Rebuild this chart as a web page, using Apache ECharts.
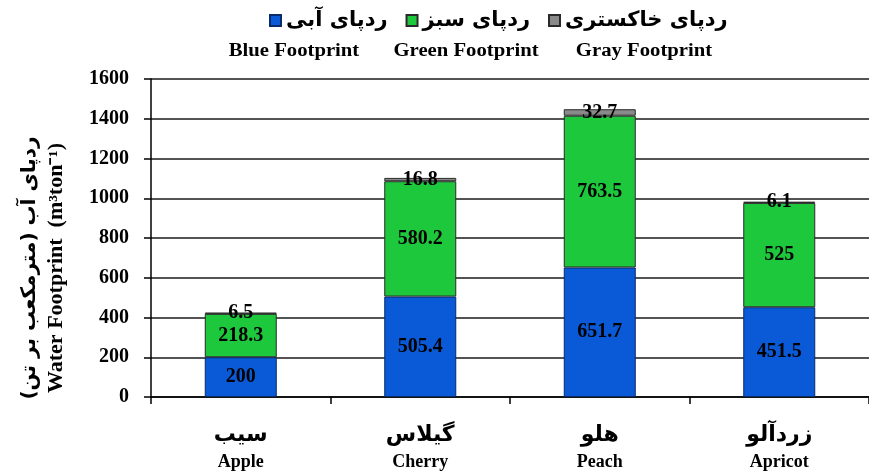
<!DOCTYPE html>
<html>
<head>
<meta charset="utf-8">
<script src="https://cdn.jsdelivr.net/npm/echarts@6/dist/echarts.min.js"></script>
<style>html,body{margin:0;padding:0;background:#fff}#c{width:869px;height:474px}</style>
</head>
<body>
<div id="c"></div>
<script>
const categoriesFa = ['سیب', 'گیلاس', 'هلو', 'زردآلو'];
const categoriesEn = ['Apple', 'Cherry', 'Peach', 'Apricot'];
const seriesNamesFa = ['ردپای آبی', 'ردپای سبز', 'ردپای خاکستری'];
const seriesNamesEn = ['Blue Footprint', 'Green Footprint', 'Gray Footprint'];
const blueValues = [200, 505.4, 651.7, 451.5];
const greenValues = [218.3, 580.2, 763.5, 525];
const grayValues = [6.5, 16.8, 32.7, 6.1];
const yTicks = [0, 200, 400, 600, 800, 1000, 1200, 1400, 1600];

const serif = '"Liberation Serif", "Times New Roman", serif';
const faFont = '"DejaVu Sans", "Noto Sans", sans-serif';
const colors = ['#0a5ad8', '#1ec83c', '#8a8a8a'];

const chart = echarts.init(document.getElementById('c'), null, {renderer: 'canvas'});

const labelStyle = {
  show: true, position: 'inside', color: '#000',
  fontFamily: serif, fontWeight: 'bold', fontSize: 20
};

function mkSeries(i, values) {
  return {
    name: seriesNamesFa[i], type: 'bar', stack: 'total', barWidth: 72,
    data: values,
    itemStyle: {color: colors[i], borderColor: i === 0 ? '#0a2a6a' : '#2a2a2a', borderWidth: 1},
    label: labelStyle
  };
}

chart.setOption({
  animation: false,
  grid: {left: 151, top: 79, width: 728, height: 318, containLabel: false},
  legend: {
    data: seriesNamesFa,
    top: 5, left: 264,
    icon: 'rect', itemWidth: 11, itemHeight: 11, itemGap: 18,
    textStyle: {fontFamily: faFont, fontWeight: 'bold', fontSize: 21, color: '#000'}
  },
  graphic: [
    ...seriesNamesEn.map((t, i) => ({
      type: 'text', x: [294, 466, 644][i], y: 51, scaleX: 1.15,
      style: {text: t, fontFamily: serif, fontWeight: 'bold', fontSize: 18, fill: '#000', align: 'center', verticalAlign: 'middle'}
    })),
    {
      type: 'text', x: 30, y: 268, rotation: Math.PI / 2,
      style: {text: 'ردپای آب (مترمکعب بر تن)', fontFamily: faFont, fontWeight: 'bold', fontSize: 20, fill: '#000', align: 'center', verticalAlign: 'middle'}
    },
    {
      type: 'text', x: 57, y: 268, rotation: Math.PI / 2, scaleX: 1.1,
      style: {text: 'Water Footprint  (m³ton⁻¹)', fontFamily: serif, fontWeight: 'bold', fontSize: 20, fill: '#000', align: 'center', verticalAlign: 'middle'}
    }
  ],
  xAxis: {
    type: 'category',
    data: categoriesEn,
    axisLine: {lineStyle: {color: '#000', width: 1.5}},
    axisTick: {show: true, length: 7, lineStyle: {color: '#000', width: 1.5}},
    axisLabel: {
      margin: 24,
      formatter: (v, idx) => '{fa|' + categoriesFa[idx] + '}\n{en|' + v + '}',
      rich: {
        fa: {fontFamily: faFont, fontWeight: 'bold', fontSize: 22, lineHeight: 29, color: '#000'},
        en: {fontFamily: serif, fontWeight: 'bold', fontSize: 18, lineHeight: 25, color: '#000'}
      }
    }
  },
  yAxis: {
    type: 'value', min: yTicks[0], max: yTicks[yTicks.length - 1], interval: 200,
    axisLine: {show: true, lineStyle: {color: '#000', width: 1.5}},
    axisTick: {show: true, length: 7, lineStyle: {color: '#000', width: 1.5}},
    axisLabel: {margin: 22, fontFamily: serif, fontWeight: 'bold', fontSize: 20, color: '#000', formatter: v => String(v)},
    splitLine: {show: true, lineStyle: {color: '#1a1a1a', width: 1.5}}
  },
  series: [mkSeries(0, blueValues), mkSeries(1, greenValues), mkSeries(2, grayValues)]
});
</script>
</body>
</html>
